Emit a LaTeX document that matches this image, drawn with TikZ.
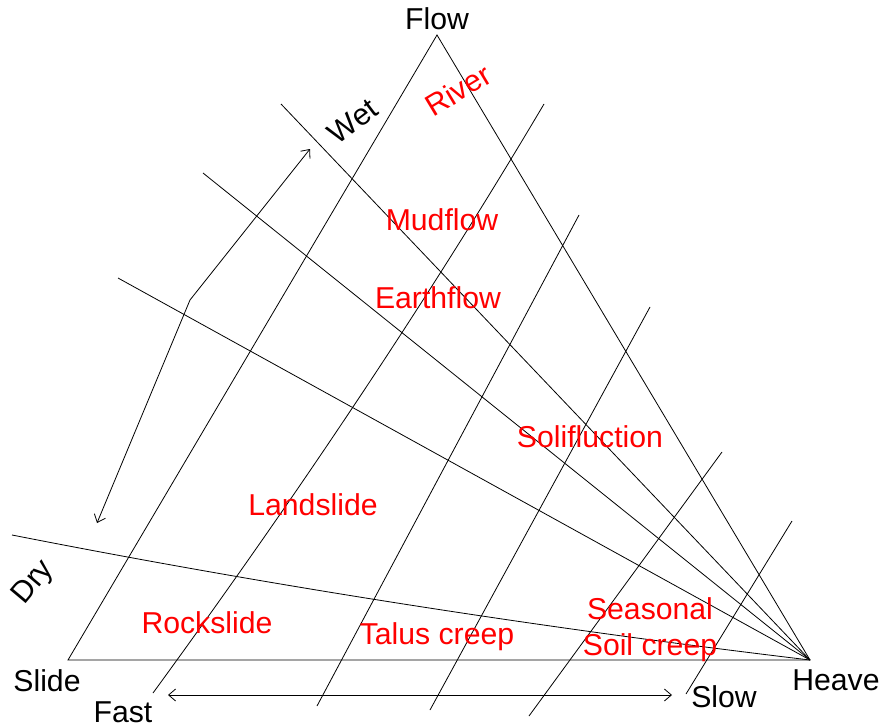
\documentclass[tikz,border=0pt]{standalone}
\usepackage{fontspec}
\setmainfont{Liberation Sans}
\usetikzlibrary{arrows.meta}
\begin{document}
\begin{tikzpicture}[x=1pt, y=-1pt, line width=0.8pt, >={Straight Barb[length=7pt, width=12pt]},
  lbl/.style={font=\fontsize{30.2}{36}\selectfont, inner sep=0pt, align=center},
  kind/.style={lbl, text=red}]
\useasboundingbox (0,0) rectangle (881,728);
\coordinate (flow) at (437,35);
\coordinate (slide) at (68,660);
\coordinate (heave) at (810,660);
\draw (slide) -- (flow) -- (heave) -- cycle;
\draw (heave) -- (281,104);
\draw (heave) -- (203,173);
\draw (heave) -- (118,278);
\draw (heave) .. controls (542.5,628) and (276.5,587) .. (12,535);
\draw (544,104) .. controls (428,300) and (296,497) .. (153,693);
\draw (579,215) -- (317,706);
\draw (650,307) -- (430,710);
\draw (722,452) -- (529,716);
\draw (792,521) -- (686,694);
\draw[<->] (97,523) -- (190,300) -- (310,149);
\draw[<->] (168,695) -- (672,695);
\node[lbl] (flowlbl) at (437,19) {Flow};
\node[lbl] (slidelbl) at (47,681) {Slide};
\node[lbl] (heavelbl) at (836,680) {Heave};
\node[lbl] (fast) at (123,712) {Fast};
\node[lbl] (slow) at (724,697) {Slow};
\node[lbl, rotate=37] (wet) at (353,121) {Wet};
\node[lbl, rotate=50] (dry) at (34,583) {Dry};
\node[kind, rotate=31] (river) at (458,90) {River};
\node[kind] (mudflow) at (442,220) {Mudflow};
\node[kind] (earthflow) at (438,298) {Earthflow};
\node[kind] (solifluction) at (590,437) {Solifluction};
\node[kind] (landslide) at (313,505) {Landslide};
\node[kind] (rockslide) at (207,623) {Rockslide};
\node[kind] (talus) at (437,637) {Talus creep};
\node[kind] (seasonal) at (650,630) {Seasonal\\Soil creep};
\end{tikzpicture}
\end{document}
